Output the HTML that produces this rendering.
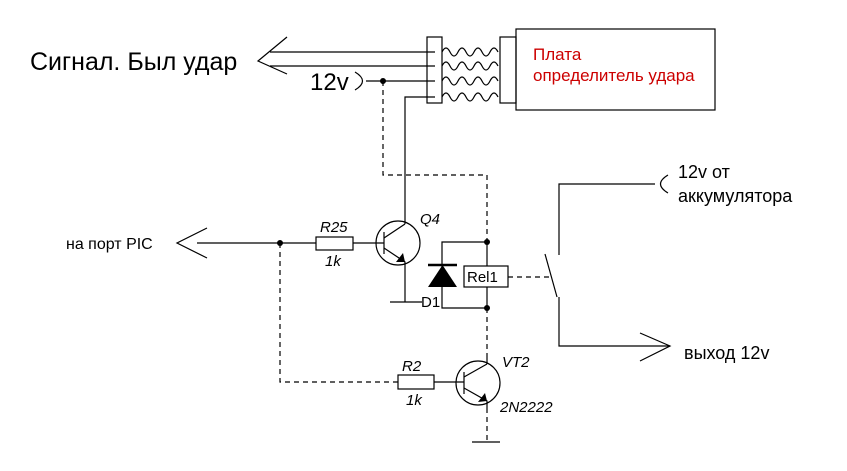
<!DOCTYPE html>
<html><head><meta charset="utf-8"><style>body{margin:0;background:#fff}svg{display:block}text{font-family:"Liberation Sans",sans-serif}</style></head><body>
<svg width="847" height="471" viewBox="0 0 847 471" xmlns="http://www.w3.org/2000/svg">
<g stroke="#000" stroke-width="1.2" fill="none">
<polyline points="287,37 258,61 287,74"/>
<line x1="270" y1="52" x2="435" y2="52"/>
<line x1="270" y1="66" x2="435" y2="66"/>
<path d="M355,72 Q370,81 355,90"/>
<line x1="366" y1="81" x2="435" y2="81"/>
<polyline points="405,200 405,97 435,97"/>
<rect x="427" y="37" width="15" height="66"/>
<rect x="500" y="37" width="16" height="66"/>
<rect x="516" y="29" width="199" height="81"/>
<path d="M442,52 q4,-8 8,0 t8,0 t8,0 t8,0 t8,0 t8,0 t8,0"/>
<path d="M442,66 q4,-8 8,0 t8,0 t8,0 t8,0 t8,0 t8,0 t8,0"/>
<path d="M442,81 q4,-8 8,0 t8,0 t8,0 t8,0 t8,0 t8,0 t8,0"/>
<path d="M442,97 q4,-8 8,0 t8,0 t8,0 t8,0 t8,0 t8,0 t8,0"/>
<polyline points="207,228 177,243 207,258"/>
<line x1="197" y1="243" x2="316" y2="243"/>
<rect x="316" y="237" width="37" height="13"/>
<line x1="353" y1="243" x2="384" y2="243"/>
<circle cx="398" cy="243" r="22"/>
<line x1="384" y1="232" x2="384" y2="254"/>
<line x1="384" y1="238" x2="405" y2="224"/>
<polyline points="384,248 405,262 405,302"/>
<line x1="405" y1="224" x2="405" y2="200"/>
<line x1="390" y1="302" x2="422" y2="302"/>
<polyline points="487,242 442,242 442,308 487,308"/>
<line x1="428" y1="265" x2="457" y2="265" stroke-width="2.5"/>
<line x1="487" y1="242" x2="487" y2="266"/>
<line x1="487" y1="287" x2="487" y2="308"/>
<rect x="464" y="266" width="44" height="21"/>
<rect x="398" y="375" width="36" height="14"/>
<line x1="434" y1="382" x2="464" y2="382"/>
<circle cx="478" cy="383" r="22"/>
<line x1="464" y1="372" x2="464" y2="394"/>
<line x1="464" y1="377" x2="487" y2="364"/>
<line x1="487" y1="364" x2="487" y2="353"/>
<polyline points="464,388 487,401 487,408"/>
<line x1="472" y1="442" x2="500" y2="442"/>
<polyline points="559,255 559,184 655,184"/>
<path d="M668,175 Q653,184 668,193"/>
<line x1="545" y1="254" x2="557" y2="297"/>
<polyline points="559,297 559,346 670,346"/>
<polyline points="640,333 670,346 640,361"/>
</g>
<g stroke="#000" stroke-width="1.2" fill="none" stroke-dasharray="5,4">
<polyline points="383,81 383,175 487,175 487,242"/>
<line x1="487" y1="308" x2="487" y2="353"/>
<line x1="487" y1="408" x2="487" y2="442"/>
<polyline points="280,243 280,382 398,382"/>
<line x1="508" y1="277" x2="553" y2="277"/>
</g>
<g fill="#000">
<circle cx="383" cy="81" r="3"/>
<circle cx="280" cy="243" r="3"/>
<circle cx="487" cy="242" r="3"/>
<circle cx="487" cy="308" r="3"/>
<polygon points="428,287 457,287 442.5,265"/>
<polygon points="405,262 396,262 403,253"/>
<polygon points="487,401 478,402 485,393"/>
</g>
<g fill="#000">
<text x="30" y="70" font-size="25">Сигнал. Был удар</text>
<text x="310" y="90" font-size="24">12v</text>
<text x="533" y="60" font-size="17" fill="#c00">Плата</text>
<text x="533" y="81" font-size="17" fill="#c00">определитель удара</text>
<text x="66" y="249" font-size="16">на порт PIC</text>
<text x="320" y="232" font-size="15" font-style="italic">R25</text>
<text x="325" y="266" font-size="15" font-style="italic">1k</text>
<text x="420" y="224" font-size="15" font-style="italic">Q4</text>
<text x="421" y="307" font-size="15">D1</text>
<text x="467" y="282" font-size="15">Rel1</text>
<text x="402" y="371" font-size="15" font-style="italic">R2</text>
<text x="406" y="405" font-size="15" font-style="italic">1k</text>
<text x="502" y="367" font-size="15" font-style="italic">VT2</text>
<text x="500" y="412" font-size="15" font-style="italic">2N2222</text>
<text x="678" y="178" font-size="18">12v от</text>
<text x="678" y="202" font-size="18">аккумулятора</text>
<text x="684" y="359" font-size="18">выход 12v</text>
</g>
</svg>
</body></html>
